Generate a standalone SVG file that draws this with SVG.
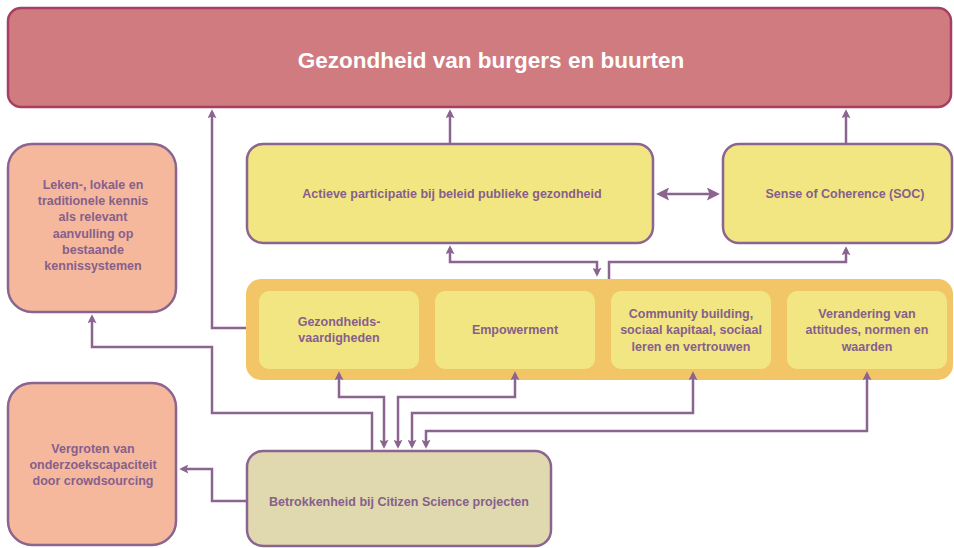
<svg xmlns="http://www.w3.org/2000/svg" width="954" height="548" viewBox="0 0 954 548">
<style>
.box{stroke:#8b6590;stroke-width:2.5}
.t{font-family:"Liberation Sans",Arial,sans-serif;font-weight:bold;font-size:12.5px;fill:#86608c;text-anchor:middle}
.title{font-family:"Liberation Sans",Arial,sans-serif;font-weight:bold;font-size:22.5px;fill:#ffffff;text-anchor:middle}
.c{fill:none;stroke:#8b6590;stroke-width:2.5;stroke-linejoin:miter}
.yellow{fill:#f2e682}
.salmon{fill:#f5b89d}
</style>
<defs>
<marker id="ah" viewBox="0 0 10 10" refX="7" refY="5" markerWidth="10" markerHeight="9" markerUnits="userSpaceOnUse" orient="auto-start-reverse">
<path d="M0,0 L10,5 L0,10 L2,5 z" fill="#8b6590"/>
</marker>
<marker id="big" viewBox="0 0 10 10" refX="7" refY="5" markerWidth="14" markerHeight="13" markerUnits="userSpaceOnUse" orient="auto-start-reverse">
<path d="M0,0 L10,5 L0,10 L2,5 z" fill="#8b6590"/>
</marker>
</defs>

<g id="gezondheid-burgers">
<rect x="8" y="8" width="943" height="99" rx="13" fill="#cf7b80" stroke="#a83e62" stroke-width="2.5"/>
<text class="title" x="491" y="68">Gezondheid van burgers en buurten</text>
</g>

<g id="leken">
<rect class="box salmon" x="8" y="144" width="168" height="168" rx="24"/>
<text class="t" x="93" y="188.8">Leken-, lokale en<tspan x="93" dy="16.3">traditionele kennis</tspan><tspan x="93" dy="16.3">als relevant</tspan><tspan x="93" dy="16.3">aanvulling op</tspan><tspan x="93" dy="16.3">bestaande</tspan><tspan x="93" dy="16.3">kennissystemen</tspan></text>
</g>

<g id="vergroten">
<rect class="box salmon" x="8" y="383" width="168" height="162" rx="24"/>
<text class="t" x="93" y="452.5">Vergroten van<tspan x="93" dy="16">onderzoekscapaciteit</tspan><tspan x="93" dy="16">door crowdsourcing</tspan></text>
</g>

<g id="actieve">
<rect class="box yellow" x="247" y="144" width="406" height="99" rx="16"/>
<text class="t" x="452" y="197.5">Actieve participatie bij beleid publieke gezondheid</text>
</g>

<g id="soc">
<rect class="box yellow" x="723" y="144" width="229" height="99" rx="16"/>
<text class="t" x="845" y="197.5">Sense of Coherence (SOC)</text>
</g>

<g id="band">
<rect x="246" y="279" width="707" height="101" rx="15" fill="#f2c567"/>
</g>

<g id="gezondheidsvaardigheden">
<rect class="yellow" x="259" y="291" width="160" height="78" rx="10"/>
<text class="t" x="339" y="325.5">Gezondheids-<tspan x="339" dy="16.5">vaardigheden</tspan></text>
</g>

<g id="empowerment">
<rect class="yellow" x="435" y="291" width="160" height="78" rx="10"/>
<text class="t" x="515" y="334">Empowerment</text>
</g>

<g id="community">
<rect class="yellow" x="611" y="291" width="160" height="78" rx="10"/>
<text class="t" x="691" y="318">Community building,<tspan x="691" dy="16.3">sociaal kapitaal, sociaal</tspan><tspan x="691" dy="16.3">leren en vertrouwen</tspan></text>
</g>

<g id="verandering">
<rect class="yellow" x="787" y="291" width="160" height="78" rx="10"/>
<text class="t" x="867" y="318">Verandering van<tspan x="867" dy="16.3">attitudes, normen en</tspan><tspan x="867" dy="16.3">waarden</tspan></text>
</g>

<g id="betrokkenheid">
<rect class="box" x="247" y="451" width="304" height="95" rx="16" fill="#e0d8ae"/>
<text class="t" x="399" y="505.5">Betrokkenheid bij Citizen Science projecten</text>
</g>

<g id="connectors">
<path class="c" d="M246,328 H212 V112" marker-end="url(#ah)"/>
<path class="c" d="M450,144 V112" marker-end="url(#ah)"/>
<path class="c" d="M846,144 V112" marker-end="url(#ah)"/>
<path class="c" d="M660,194 H716" marker-start="url(#big)" marker-end="url(#big)"/>
<path class="c" d="M450,248 V262 H597 V274" marker-start="url(#ah)" marker-end="url(#ah)"/>
<path class="c" d="M609,279 V262 H846 V249" marker-end="url(#ah)"/>
<path class="c" d="M339,374 V397 H384 V446" marker-start="url(#ah)" marker-end="url(#ah)"/>
<path class="c" d="M515,374 V397 H398 V446" marker-start="url(#ah)" marker-end="url(#ah)"/>
<path class="c" d="M693,374 V413 H412 V446" marker-start="url(#ah)" marker-end="url(#ah)"/>
<path class="c" d="M867,374 V431 H426 V446" marker-start="url(#ah)" marker-end="url(#ah)"/>
<path class="c" d="M372,450 V413 H212 V347 H92 V317" marker-end="url(#ah)"/>
<path class="c" d="M247,501 H212 V469 H182" marker-end="url(#ah)"/>
</g>
</svg>
